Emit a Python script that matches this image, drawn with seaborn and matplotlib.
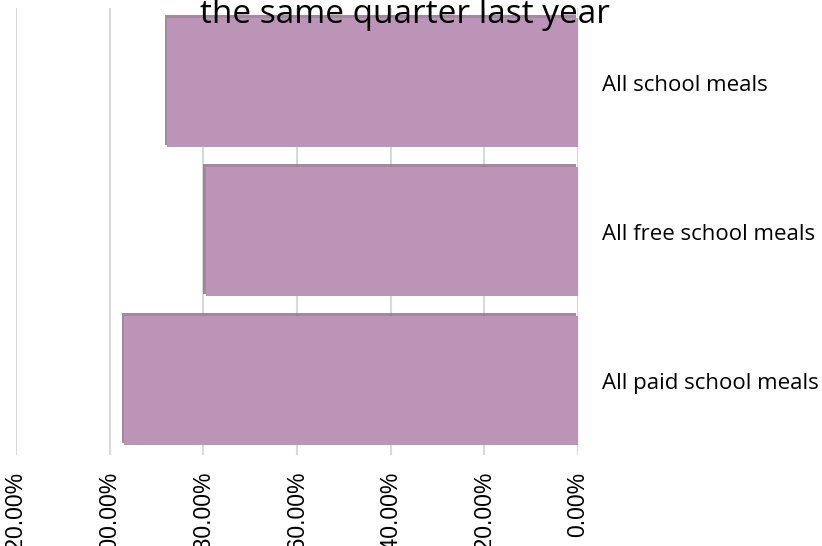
import matplotlib
matplotlib.use("Agg")
import matplotlib.pyplot as plt
import matplotlib.patheffects as pe
from matplotlib.ticker import FuncFormatter, MultipleLocator
import seaborn as sns
import pandas as pd

categories = ["All school meals", "All free school meals", "All paid school meals"]
change_pct = [-87.7, -79.5, -96.9]
title_line = "the same quarter last year"

df = pd.DataFrame({"category": categories, "change": change_pct})

sns.set_theme(style="white")
plt.rcParams["font.family"] = ["Open Sans", "DejaVu Sans"]

fig = plt.figure(figsize=(8.22, 5.46), dpi=100)
ax = fig.add_axes([16 / 822, 1 - 455 / 546, (578 - 16) / 822, (455 - 8) / 546])

sns.barplot(data=df, x="change", y="category", orient="h", color="#bc94b8",
            width=0.866, saturation=1, ax=ax, zorder=3)

# soft darker edge along the top and left of each bar
for bar in ax.patches:
    bar.set_linewidth(0)
    bar.set_path_effects([
        pe.SimplePatchShadow(offset=(-1.8, 1.8), shadow_rgbFace="#8a6c88", alpha=0.8),
        pe.Normal(),
    ])

ax.set_xlim(-120, 0)
ax.xaxis.set_major_locator(MultipleLocator(20))
ax.xaxis.set_major_formatter(FuncFormatter(lambda v, _: f"{v:.2f}%".replace("\u2212", "-")))
ax.grid(axis="x", color="#d9d9d9", linewidth=1.5, zorder=0)
ax.set_axisbelow(True)
for s in ax.spines.values():
    s.set_visible(False)

ax.yaxis.tick_right()
ax.tick_params(axis="y", length=0, pad=17, labelsize=16, labelcolor="#000000")
for lbl in ax.get_yticklabels():
    lbl.set_fontfamily(["Open Sans", "DejaVu Sans"])
ax.tick_params(axis="x", length=0, pad=12, labelsize=16.5, labelcolor="#000000")
for lbl in ax.get_xticklabels():
    lbl.set_fontfamily(["Liberation Sans", "DejaVu Sans"])
    lbl.set_rotation(90)
    lbl.set_va("top")
    lbl.set_ha("center")
ax.set_xlabel("")
ax.set_ylabel("")

fig.text(405 / 822, 1 - 23 / 546, title_line, ha="center", va="baseline",
         fontsize=24, color="#000000", family=["Open Sans", "DejaVu Sans"])

fig.savefig("out.png", dpi=100, facecolor="white")
